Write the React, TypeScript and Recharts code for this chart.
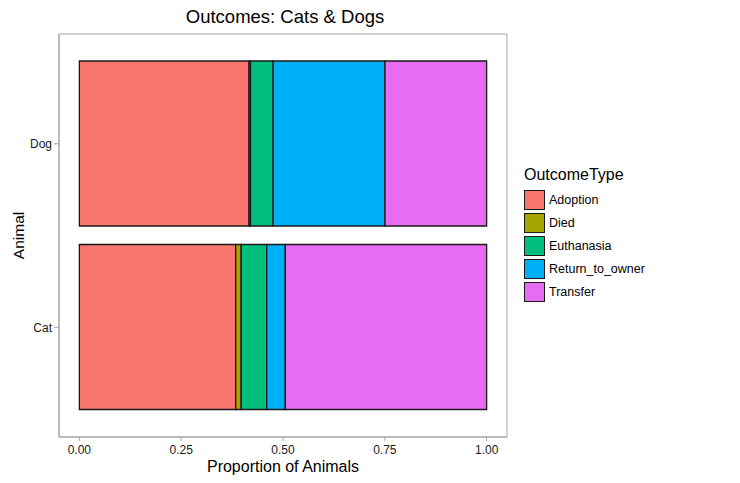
import React from 'react';
import { BarChart, Bar, XAxis, YAxis, Legend, CartesianGrid } from 'recharts';

const animals = ['Dog', 'Cat'];
const outcomeTypes = ['Adoption', 'Died', 'Euthanasia', 'Return_to_owner', 'Transfer'];
const adoption = [0.4166, 0.3838];
const died = [0.0036, 0.0135];
const euthanasia = [0.0554, 0.0629];
const returnToOwner = [0.2748, 0.0454];
const transfer = [0.2496, 0.4944];
const colors = ['#F8766D', '#A3A500', '#00BF7D', '#00B0F6', '#E76BF3'];
const xTicks = [0, 0.25, 0.5, 0.75, 1];

const seriesValues = [adoption, died, euthanasia, returnToOwner, transfer];
const data = animals.map((a, i) => {
  const row: Record<string, any> = { animal: a };
  outcomeTypes.forEach((t, j) => {
    row[t] = seriesValues[j][i];
  });
  return row;
});

const FONT = '"Liberation Sans", Arial, Helvetica, sans-serif';
const GRID = '#a6a6a6';

const YLabel = (props: any) => {
  const vb = props.viewBox || {};
  const x = 18;
  const y = vb.y + vb.height / 2;
  return (
    <text x={x} y={y} transform={`rotate(-90 ${x} ${y})`} textAnchor="middle" dominantBaseline="central" fontSize={15.5} fill="#000" fontFamily={FONT}>
      Animal
    </text>
  );
};

const XLabel = (props: any) => {
  const vb = props.viewBox || {};
  const x = vb.x + vb.width / 2;
  const y = vb.y + 29;
  return (
    <text x={x} y={y} textAnchor="middle" dominantBaseline="central" fontSize={16} fill="#000" fontFamily={FONT}>
      Proportion of Animals
    </text>
  );
};

const LegendContent = (props: any) => {
  const payload = props.payload || [];
  return (
    <div style={{ fontFamily: FONT }}>
      <div style={{ fontSize: 16, color: '#000', lineHeight: '18px', marginBottom: 4 }}>OutcomeType</div>
      {payload.map((p: any) => (
        <div key={p.value} style={{ display: 'flex', alignItems: 'center', height: 23 }}>
          <div style={{ width: 19, height: 18, background: p.color, border: '1.5px solid #1a1a1a', boxSizing: 'content-box' }} />
          <span style={{ fontSize: 12.5, marginLeft: 4, color: '#000' }}>{p.value}</span>
        </div>
      ))}
    </div>
  );
};

export default function App() {
  return (
    <div style={{ position: 'absolute', left: 0, top: 0, width: 740, height: 483, background: '#fff' }}>
      <div style={{ position: 'absolute', left: 59, top: 6, width: 452, textAlign: 'center', fontFamily: FONT, fontSize: 18.5, color: '#000' }}>
        Outcomes: Cats &amp; Dogs
      </div>
      <BarChart
        width={740}
        height={483}
        data={data}
        layout="vertical"
        margin={{ top: 34, right: 233, left: 0, bottom: 0 }}
        style={{ fontFamily: FONT }}
      >
        <CartesianGrid
          stroke={GRID}
          strokeWidth={1}
          horizontalCoordinatesGenerator={({ offset }: any) => [offset.top, offset.top + offset.height]}
          verticalCoordinatesGenerator={({ offset }: any) => [offset.left, offset.left + offset.width]}
        />
        <XAxis
          type="number"
          domain={[-0.05, 1.05]}
          allowDataOverflow
          ticks={xTicks}
          tickFormatter={(v: number) => v.toFixed(2)}
          height={46}
          stroke={GRID}
          tickSize={4}
          tickMargin={4}
          tick={{ fill: '#1a1a1a', fontSize: 12 }}
          label={<XLabel />}
        />
        <YAxis
          type="category"
          dataKey="animal"
          width={59}
          stroke={GRID}
          tickSize={5}
          tickMargin={2}
          padding={{ top: 18, bottom: 18 }}
          tick={{ fill: '#1a1a1a', fontSize: 12 }}
          label={<YLabel />}
        />
        <Legend
          layout="vertical"
          align="center"
          verticalAlign="middle"
          content={<LegendContent />}
          wrapperStyle={{ left: 524, top: 166, width: 200 }}
        />
        {outcomeTypes.map((t, i) => (
          <Bar key={t} dataKey={t} stackId="a" fill={colors[i]} stroke="#1a1a1a" strokeWidth={1.3} barSize={165} isAnimationActive={false} />
        ))}
      </BarChart>
    </div>
  );
}
